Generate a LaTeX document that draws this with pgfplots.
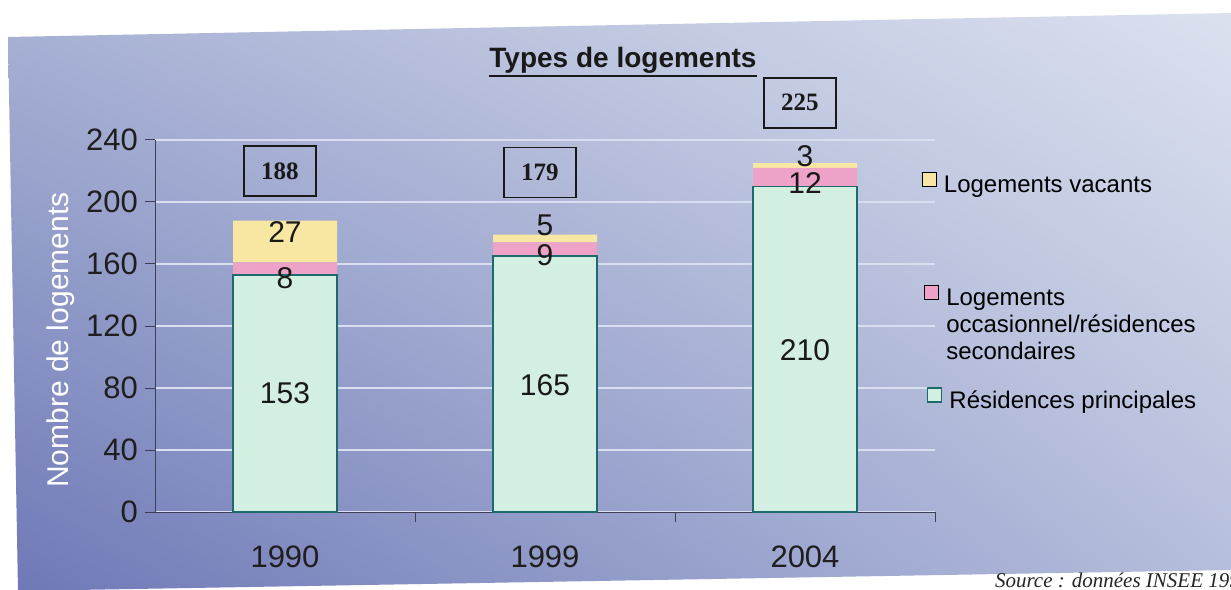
\documentclass[border=0pt]{standalone}
\usepackage{fontspec}
\setmainfont{Liberation Sans}
\newfontfamily\timesf{Liberation Serif}
\usepackage{pgfplots}
\pgfplotsset{compat=1.18}
\usetikzlibrary{shadings}
\definecolor{bgTL}{HTML}{A8B2D4}
\definecolor{bgTR}{HTML}{DCE1EF}
\definecolor{bgBL}{HTML}{6E78B6}
\definecolor{bgBR}{HTML}{B4BDDB}
\definecolor{cGreen}{HTML}{D3EFE2}
\definecolor{cPink}{HTML}{EEA2C8}
\definecolor{cYellow}{HTML}{F7E7A3}
\definecolor{cEdge}{HTML}{1C6A6C}
\definecolor{cAxis}{HTML}{3C3F55}
\definecolor{cGrid}{HTML}{D9DFF0}
\DeclareRobustCommand\legtwo{\parbox[t]{130pt}{Logements\newline occasionnel/résidences\newline secondaires}}
\pgfplotsset{
  baseaxis/.style={at={(77.5pt,38.5pt)}, anchor=south west,
    scale only axis, width=390pt, height=186pt,
    xmin=-0.5, xmax=2.5, ymin=0, ymax=240, clip=false},
  legaxis/.style={baseaxis, hide axis,
    legend image code/.code={\path[##1] (0pt,-0.5pt) rectangle (7pt,6.5pt);},
    legend style={anchor=north west, draw=none, fill=none,
      font=\fontsize{12}{13.5}\selectfont, inner sep=0pt, column sep=2.5pt,
      nodes={inner sep=1pt}}},
}
\begin{document}
\begin{tikzpicture}
\useasboundingbox (0,0) rectangle (615.5pt,294.5pt);
\clip (0,0) rectangle (615.5pt,294.5pt);
\fill[white] (0,0) rectangle (615.5pt,294.5pt);
\shade[upper left=bgTL, upper right=bgTR, lower left=bgBL, lower right=bgBR]
  (4pt,276pt) -- (616pt,288pt) -- (616pt,9.5pt) -- (9pt,-1pt) -- cycle;
\node[inner sep=0pt, font=\bfseries\fontsize{14}{16}\selectfont, anchor=base, text=black!90] (T) at (311.5pt,260.5pt) {Types de logements};
\draw[black!90, line width=1.2pt] ([yshift=-4pt]T.base west) -- ([yshift=-4pt]T.base east);
\node[font=\timesf\itshape\fontsize{10.5}{12}\selectfont, anchor=base west, text=black!85] at (494pt,1pt) {Source : données INSEE 1999};
\begin{axis}[
  baseaxis,
  ybar stacked, bar width=0.4,
  ytick={0,40,...,240},
  xtick={0.5,1.5,2.5}, xticklabels={},
  extra x ticks={0,1,2}, extra x tick labels={1990,1999,2004},
  extra x tick style={major tick length=0pt},
  xticklabel style={yshift=-13.5pt},
  axis x line*=bottom, axis y line*=left,
  axis line style={cAxis, line width=0.5pt},
  tick style={cAxis, line width=0.5pt},
  tick align=outside, major tick length=5pt,
  ymajorgrids, major grid style={cGrid, line width=0.6pt},
  /pgf/number format/assume math mode=true,
  tick label style={font=\fontsize{15.5}{18}\selectfont, text=black!88},
  ylabel={Nombre de logements},
  ylabel style={at={(axis description cs:-0.1205,0.462)}, rotate=0, anchor=center, font=\fontsize{15}{18}\selectfont, text=white},
]
\addplot[fill=cGreen, draw=cEdge, line width=0.8pt] coordinates {(0,153) (1,165) (2,210)};
\addplot[fill=cPink, draw=none] coordinates {(0,8) (1,9) (2,12)};
\addplot[fill=cYellow, draw=none] coordinates {(0,27) (1,5) (2,3)};
\end{axis}
% segment values and totals, drawn over the bars
\begin{axis}[baseaxis, hide axis]
\addplot[draw=none, mark=none, nodes near coords, point meta=explicit symbolic,
  every node near coord/.style={anchor=center, font=\fontsize{15}{18}\selectfont, text=black!90}]
  coordinates {(0,76.5)[153] (0,151)[8] (0,180.5)[27]
               (1,82)[165] (1,166)[9] (1,185)[5]
               (2,104.5)[210] (2,212)[12] (2,229.5)[3]};
\addplot[draw=none, mark=none, nodes near coords, point meta=explicit symbolic,
  every node near coord/.style={anchor=center, draw=black!90, line width=0.8pt,
    minimum width=36pt, minimum height=25pt,
    font=\timesf\bfseries\fontsize{12.5}{15}\selectfont, text=black!90}]
  coordinates {(-0.02,220)[188] (0.98,219)[179] (1.98,264)[225]};
\end{axis}
% legend
\begin{axis}[legaxis, legend style={at={(0.983,0.914)}}]
\addlegendimage{fill=cYellow}
\addlegendentry{Logements vacants}
\end{axis}
\begin{axis}[legaxis, legend style={at={(0.986,0.610)}}]
\addlegendimage{fill=cPink}
\addlegendentry{\legtwo}
\end{axis}
\begin{axis}[legaxis, legend style={at={(0.989,0.336)}}]
\addlegendimage{fill=cGreen, draw=cEdge, line width=0.8pt}
\addlegendentry{Résidences principales}
\end{axis}
\end{tikzpicture}
\end{document}
